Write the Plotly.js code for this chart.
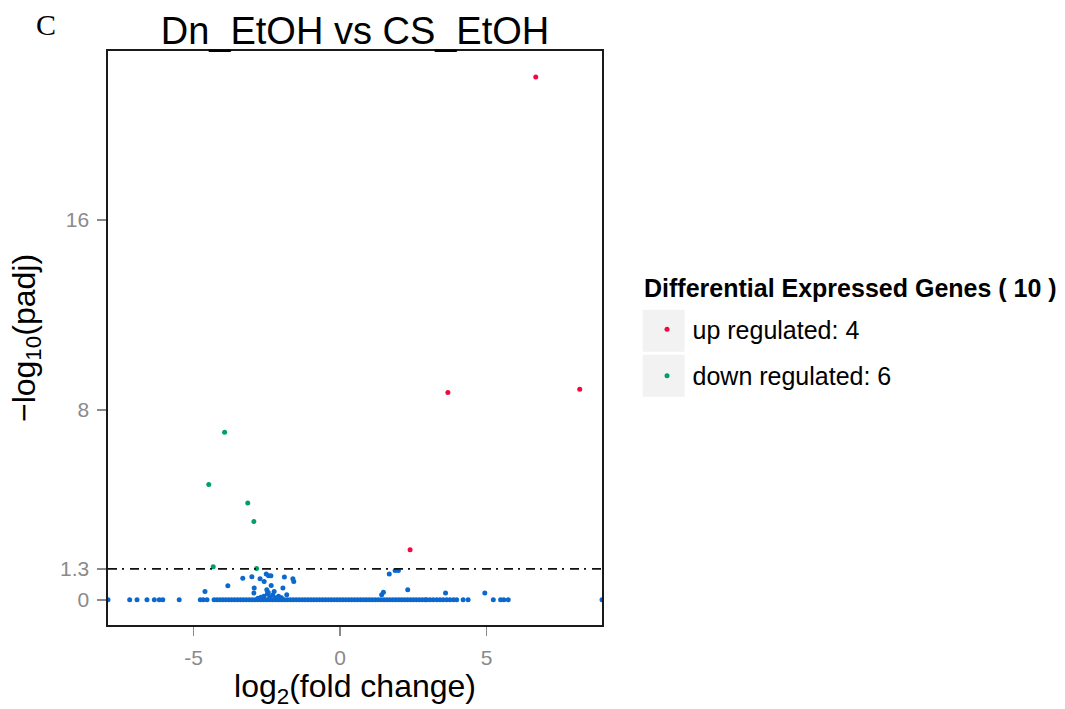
<!DOCTYPE html>
<html>
<head>
<meta charset="utf-8">
<script src="https://cdn.plot.ly/plotly-3.0.1.min.js"></script>
<style>
  html, body { margin: 0; padding: 0; background: #ffffff; }
  #chart { width: 1065px; height: 709px; }
</style>
</head>
<body>
<div id="chart"></div>
<script>
// Volcano plot: Dn_EtOH vs CS_EtOH
// Significant genes (padj threshold -log10 = 1.3)
const upX = [6.68, 3.68, 8.18, 2.39];
const upY = [22.02, 8.73, 8.87, 2.11];
const downX = [-3.94, -4.48, -3.15, -2.94, -4.33, -2.85];
const downY = [7.06, 4.85, 4.08, 3.30, 1.39, 1.32];

// Non-significant genes: lifted points
const nsLiftX = [-4.61, -3.83, -3.32, -3.01, -2.73, -2.59, -2.52, -2.44, -2.36, -2.35,
                 -1.90, -1.61, -1.58, -2.93, -2.94, -1.95, -1.82, -2.25, -2.50,
                 -2.60, -2.48, -2.40, -2.30, -2.70, -2.20, -2.10, -2.00, -2.80, -2.45,
                 1.68, 1.88, 1.99, 1.48, 1.42, 2.31, 3.60, 4.94];
const nsLiftY = [0.35, 0.59, 0.90, 0.97, 0.88, 0.77, 1.08, 1.01, 1.01, 0.60,
                 0.96, 0.88, 0.77, 0.49, 0.28, 0.49, 0.21, 0.35, 0.42,
                 0.15, 0.25, 0.12, 0.20, 0.10, 0.08, 0.15, 0.08, 0.06, 0.30,
                 1.08, 1.23, 1.23, 0.32, 0.21, 0.42, 0.28, 0.28];

// Non-significant genes sitting at -log10(padj) = 0
const nsFlatX = [-7.92, -7.18, -6.93, -6.59, -6.34, -6.17, -6.05, -5.49, -4.77, -4.67, -4.54,
  -4.30, -4.20, -4.10, -4.00, -3.90, -3.80, -3.70, -3.60, -3.50, -3.40,
  -3.30, -3.20, -3.10, -3.00, -2.90, -2.80, -2.70, -2.60, -2.50, -2.40,
  -2.30, -2.20, -2.10, -2.00, -1.90, -1.80, -1.70, -1.60, -1.50, -1.40,
  -1.30, -1.20, -1.10, -1.00, -0.90, -0.80, -0.70, -0.60, -0.50, -0.40,
  -0.30, -0.20, -0.10, 0.00, 0.10, 0.20, 0.30, 0.40, 0.50, 0.60,
  0.70, 0.80, 0.90, 1.00, 1.10, 1.20, 1.30, 1.40, 1.50, 1.60,
  1.70, 1.80, 1.90, 2.00, 2.10, 2.20, 2.30, 2.40, 2.50, 2.60,
  2.70, 2.80, 2.90, 2.96, 3.07, 3.18, 3.30, 3.41, 3.52, 3.64, 3.75, 3.87, 3.98,
  4.20, 4.37, 5.23, 5.48, 5.59, 5.74, 8.94];
const nsFlatY = nsFlatX.map(() => 0);

const threshold = 1.3;
const xTicks = [-5, 0, 5];
const xTickText = ['-5', '0', '5'];
const yTicks = [0, 1.3, 8, 16];
const yTickText = ['0', '1.3', '8', '16'];

const nsX = nsFlatX.concat(nsLiftX);
const nsY = nsFlatY.concat(nsLiftY);

const blue = '#0b68cf';
const red = '#f5063e';
const green = '#00a06a';
const sans = 'Liberation Sans, Arial, sans-serif';

const traces = [
  {
    x: nsX, y: nsY, type: 'scatter', mode: 'markers',
    marker: { color: blue, size: 5 },
    showlegend: false, hoverinfo: 'x+y', cliponaxis: true
  },
  {
    x: upX, y: upY, type: 'scatter', mode: 'markers', name: 'up regulated: ' + upX.length,
    legendgroup: 'up',
    marker: { color: red, size: 5 }, cliponaxis: true
  },
  {
    x: downX, y: downY, type: 'scatter', mode: 'markers', name: 'down regulated: ' + downX.length,
    legendgroup: 'down',
    marker: { color: green, size: 5 }, cliponaxis: true
  }
];

const axisCommon = {
  showgrid: false, zeroline: false,
  showline: true, mirror: true, linecolor: '#1a1a1a', linewidth: 1.6,
  ticks: 'outside', ticklen: 9, tickwidth: 1.6, tickcolor: '#8a8a8a',
  ticklabelstandoff: 4,
  tickfont: { family: sans, size: 21, color: '#8a8a8a' }
};

const layout = {
  width: 1065, height: 709, autosize: false,
  margin: { l: 108, r: 463, t: 51, b: 84, pad: 0 },
  paper_bgcolor: '#ffffff', plot_bgcolor: '#ffffff',
  font: { family: sans, color: '#000000' },
  title: {
    text: 'Dn_EtOH vs CS_EtOH',
    font: { family: sans, size: 38, color: '#000000' },
    xref: 'paper', x: 0.5, xanchor: 'center',
    yref: 'container', y: 0.957, yanchor: 'middle'
  },
  xaxis: Object.assign({}, axisCommon, {
    range: [-7.92, 8.94],
    tickvals: xTicks, ticktext: xTickText,
    title: { text: 'log<sub>2</sub>(fold change)', font: { family: sans, size: 32, color: '#000000' }, standoff: 6 }
  }),
  yaxis: Object.assign({}, axisCommon, {
    range: [-1.065, 23.12],
    tickvals: yTicks, ticktext: yTickText,
    title: { text: '−log<sub>10</sub>(padj)', font: { family: sans, size: 32, color: '#000000' }, standoff: 15 }
  }),
  shapes: [
    {
      type: 'line', xref: 'paper', x0: 0, x1: 1, yref: 'y', y0: threshold, y1: threshold,
      line: { color: '#111111', width: 1.6, dash: '9px,5px,2px,6px' }, layer: 'above'
    },
    {
      type: 'rect', xref: 'paper', yref: 'paper', x0: 1.0823, x1: 1.1672, y0: 0.4759, y1: 0.549,
      fillcolor: '#f2f2f2', line: { width: 0 }, layer: 'below'
    },
    {
      type: 'rect', xref: 'paper', yref: 'paper', x0: 1.0823, x1: 1.1672, y0: 0.3976, y1: 0.4707,
      fillcolor: '#f2f2f2', line: { width: 0 }, layer: 'below'
    }
  ],
  annotations: [
    {
      text: 'C', xref: 'paper', yref: 'paper', x: -0.1247, y: 1.046,
      xanchor: 'center', yanchor: 'middle', showarrow: false,
      font: { family: 'Liberation Serif, Times New Roman, serif', size: 30, color: '#000000' }
    },
    {
      text: '<b>Differential Expressed Genes ( 10 )</b>',
      xref: 'paper', yref: 'paper', x: (642 - 108) / 494, y: (625 - 288) / 574,
      xanchor: 'left', yanchor: 'middle', showarrow: false,
      font: { family: sans, size: 25, color: '#000000' }
    }
  ],
  legend: {
    x: 1.08, xanchor: 'left', y: 0.555, yanchor: 'top',
    bgcolor: 'rgba(0,0,0,0)', borderwidth: 0,
    traceorder: 'grouped', tracegroupgap: 11,
    itemsizing: 'trace', itemwidth: 41,
    font: { family: sans, size: 25, color: '#000000' }
  },
  hovermode: 'closest'
};

Plotly.newPlot('chart', traces, layout, { displayModeBar: false, staticPlot: true });
</script>
</body>
</html>
